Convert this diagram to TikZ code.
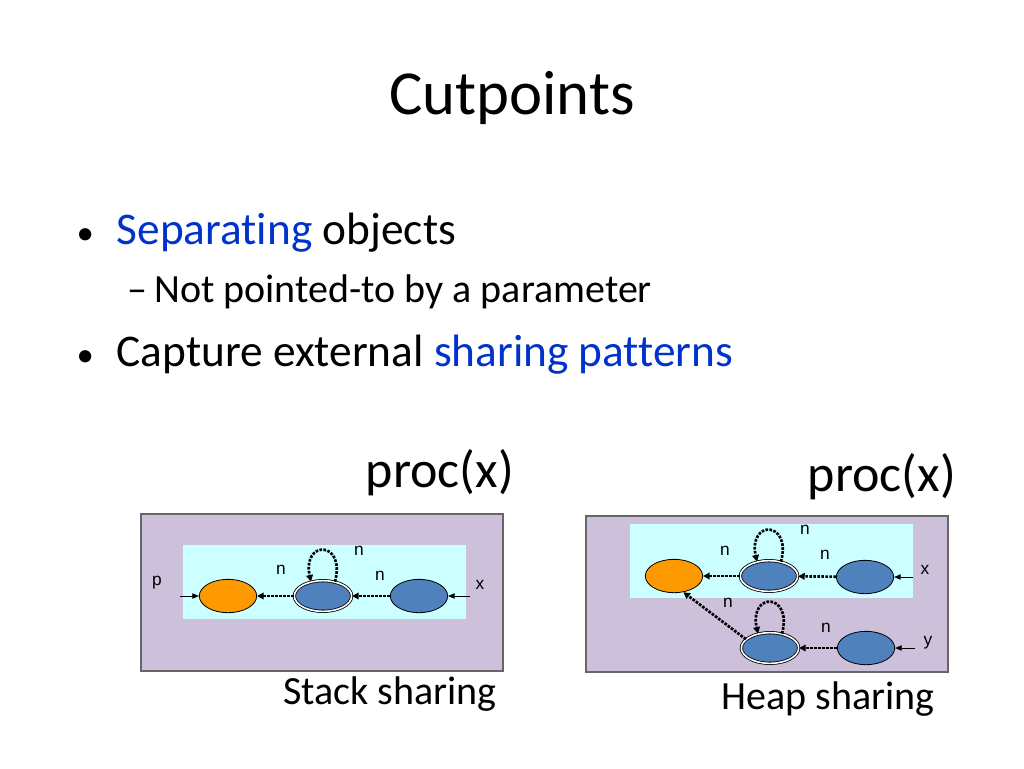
\documentclass[tikz,border=0pt]{standalone}
\usepackage{fontspec}
\setmainfont[Ligatures=NoCommon]{Carlito}
\newfontfamily\arial{Liberation Sans}
\usetikzlibrary{arrows.meta,shapes.geometric}
\definecolor{lav}{HTML}{CCC0DA}
\definecolor{cy}{HTML}{CCFFFF}
\definecolor{org}{HTML}{FF9900}
\definecolor{blu}{HTML}{4F81BD}
\definecolor{lnk}{HTML}{0033CC}
\begin{document}
\begin{tikzpicture}[x=0.75pt,y=-0.75pt,
  outer/.style={draw=black!60,fill=lav,line width=0.8pt},
  inner/.style={fill=cy,draw=none},
  onode/.style={ellipse,draw=black,fill=org,minimum width=43pt,minimum height=25pt,inner sep=0pt,line width=0.6pt},
  bnode/.style={ellipse,draw=black,fill=blu,minimum width=43pt,minimum height=25pt,inner sep=0pt,line width=0.6pt},
  dnode/.style={ellipse,draw=black,fill=blu,minimum width=43pt,minimum height=23pt,inner sep=0pt,line width=0.6pt,double=white,double distance=1.2pt},
  edge/.style={-{Triangle[length=5pt,width=5pt]},line width=2pt,dash pattern=on 2pt off 1pt},
  ptr/.style={-{Triangle[length=5pt,width=4pt]},line width=0.7pt},
  lbl/.style={font=\arial\fontsize{13}{13}\selectfont,inner sep=0pt}]
\useasboundingbox (0,0) rectangle (1024,768);
\fill[white] (0,0) rectangle (1024,768);
\node (title) at (512,98) {\fontsize{47}{47}\selectfont Cutpoints};
\node[anchor=base west] (b1) at (72,244) {\fontsize{34}{34}\selectfont {\fontsize{26}{26}\selectfont •}\hspace{0.5em}\textcolor{lnk}{Separating} objects};
\node[anchor=base west] (s1) at (123,302) {\fontsize{30}{30}\selectfont –\,Not pointed-to by a parameter};
\node[anchor=base west] (b2) at (72,366) {\fontsize{34}{34}\selectfont {\fontsize{26}{26}\selectfont •}\hspace{0.5em}Capture external \textcolor{lnk}{sharing patterns}};
\node (pc1) at (440,473) {\fontsize{39}{39}\selectfont proc(x)};
\node (pc2) at (882,477) {\fontsize{39}{39}\selectfont proc(x)};
\node (ss) at (390,694) {\fontsize{30}{30}\selectfont Stack sharing};
\node (hs) at (828,699) {\fontsize{30}{30}\selectfont Heap sharing};
% left panel
\draw[outer] (141,514) rectangle (503,671);
\fill[inner] (183,545) rectangle (466,619);
\node[onode] (a1) at (228,596) {};
\node[dnode] (a2) at (323,596) {};
\node[bnode] (a3) at (419,596) {};
\node[lbl] (pl) at (157,583) {p};
\node[lbl] (xl) at (480,585) {x};
\coordinate (pp) at (180,596);
\coordinate (xp) at (470,596);
\draw[ptr] (pp) -- (a1);
\draw[ptr] (xp) -- (a3);
\draw[edge] (a2) -- (a1);
\draw[edge] (a3) -- (a2);
\draw[edge] (a2.50) .. controls (346,540) and (302,540) .. (a2.130);
\node[lbl] at (281,570) {n};
\node[lbl] at (359,551) {n};
\node[lbl] at (380,576) {n};
% right panel
\draw[outer] (586,516) rectangle (948,672);
\fill[inner] (630,524) rectangle (913,598);
\node[onode] (c1) at (674,576) {};
\node[dnode] (c2) at (769,576) {};
\node[bnode] (c3) at (865,577) {};
\node[dnode] (d2) at (770,648) {};
\node[bnode] (d3) at (866,648) {};
\node[lbl] (xl2) at (925,570) {x};
\node[lbl] (yl2) at (928,643) {y};
\coordinate (xp2) at (913,577);
\coordinate (yp2) at (915,648);
\draw[ptr] (xp2) -- (c3);
\draw[ptr] (yp2) -- (d3);
\draw[edge] (c2) -- (c1);
\draw[edge] (c3) -- (c2);
\draw[edge] (d3) -- (d2);
\draw[edge] (d2.160) -- (c1.-60);
\draw[edge] (c2.50) .. controls (792,520) and (748,520) .. (c2.130);
\draw[edge] (d2.50) .. controls (793,592) and (749,592) .. (d2.130);
\node[lbl] at (725,551) {n};
\node[lbl] at (805,530) {n};
\node[lbl] at (825,555) {n};
\node[lbl] at (728,603) {n};
\node[lbl] at (826,628) {n};
\end{tikzpicture}
\end{document}
